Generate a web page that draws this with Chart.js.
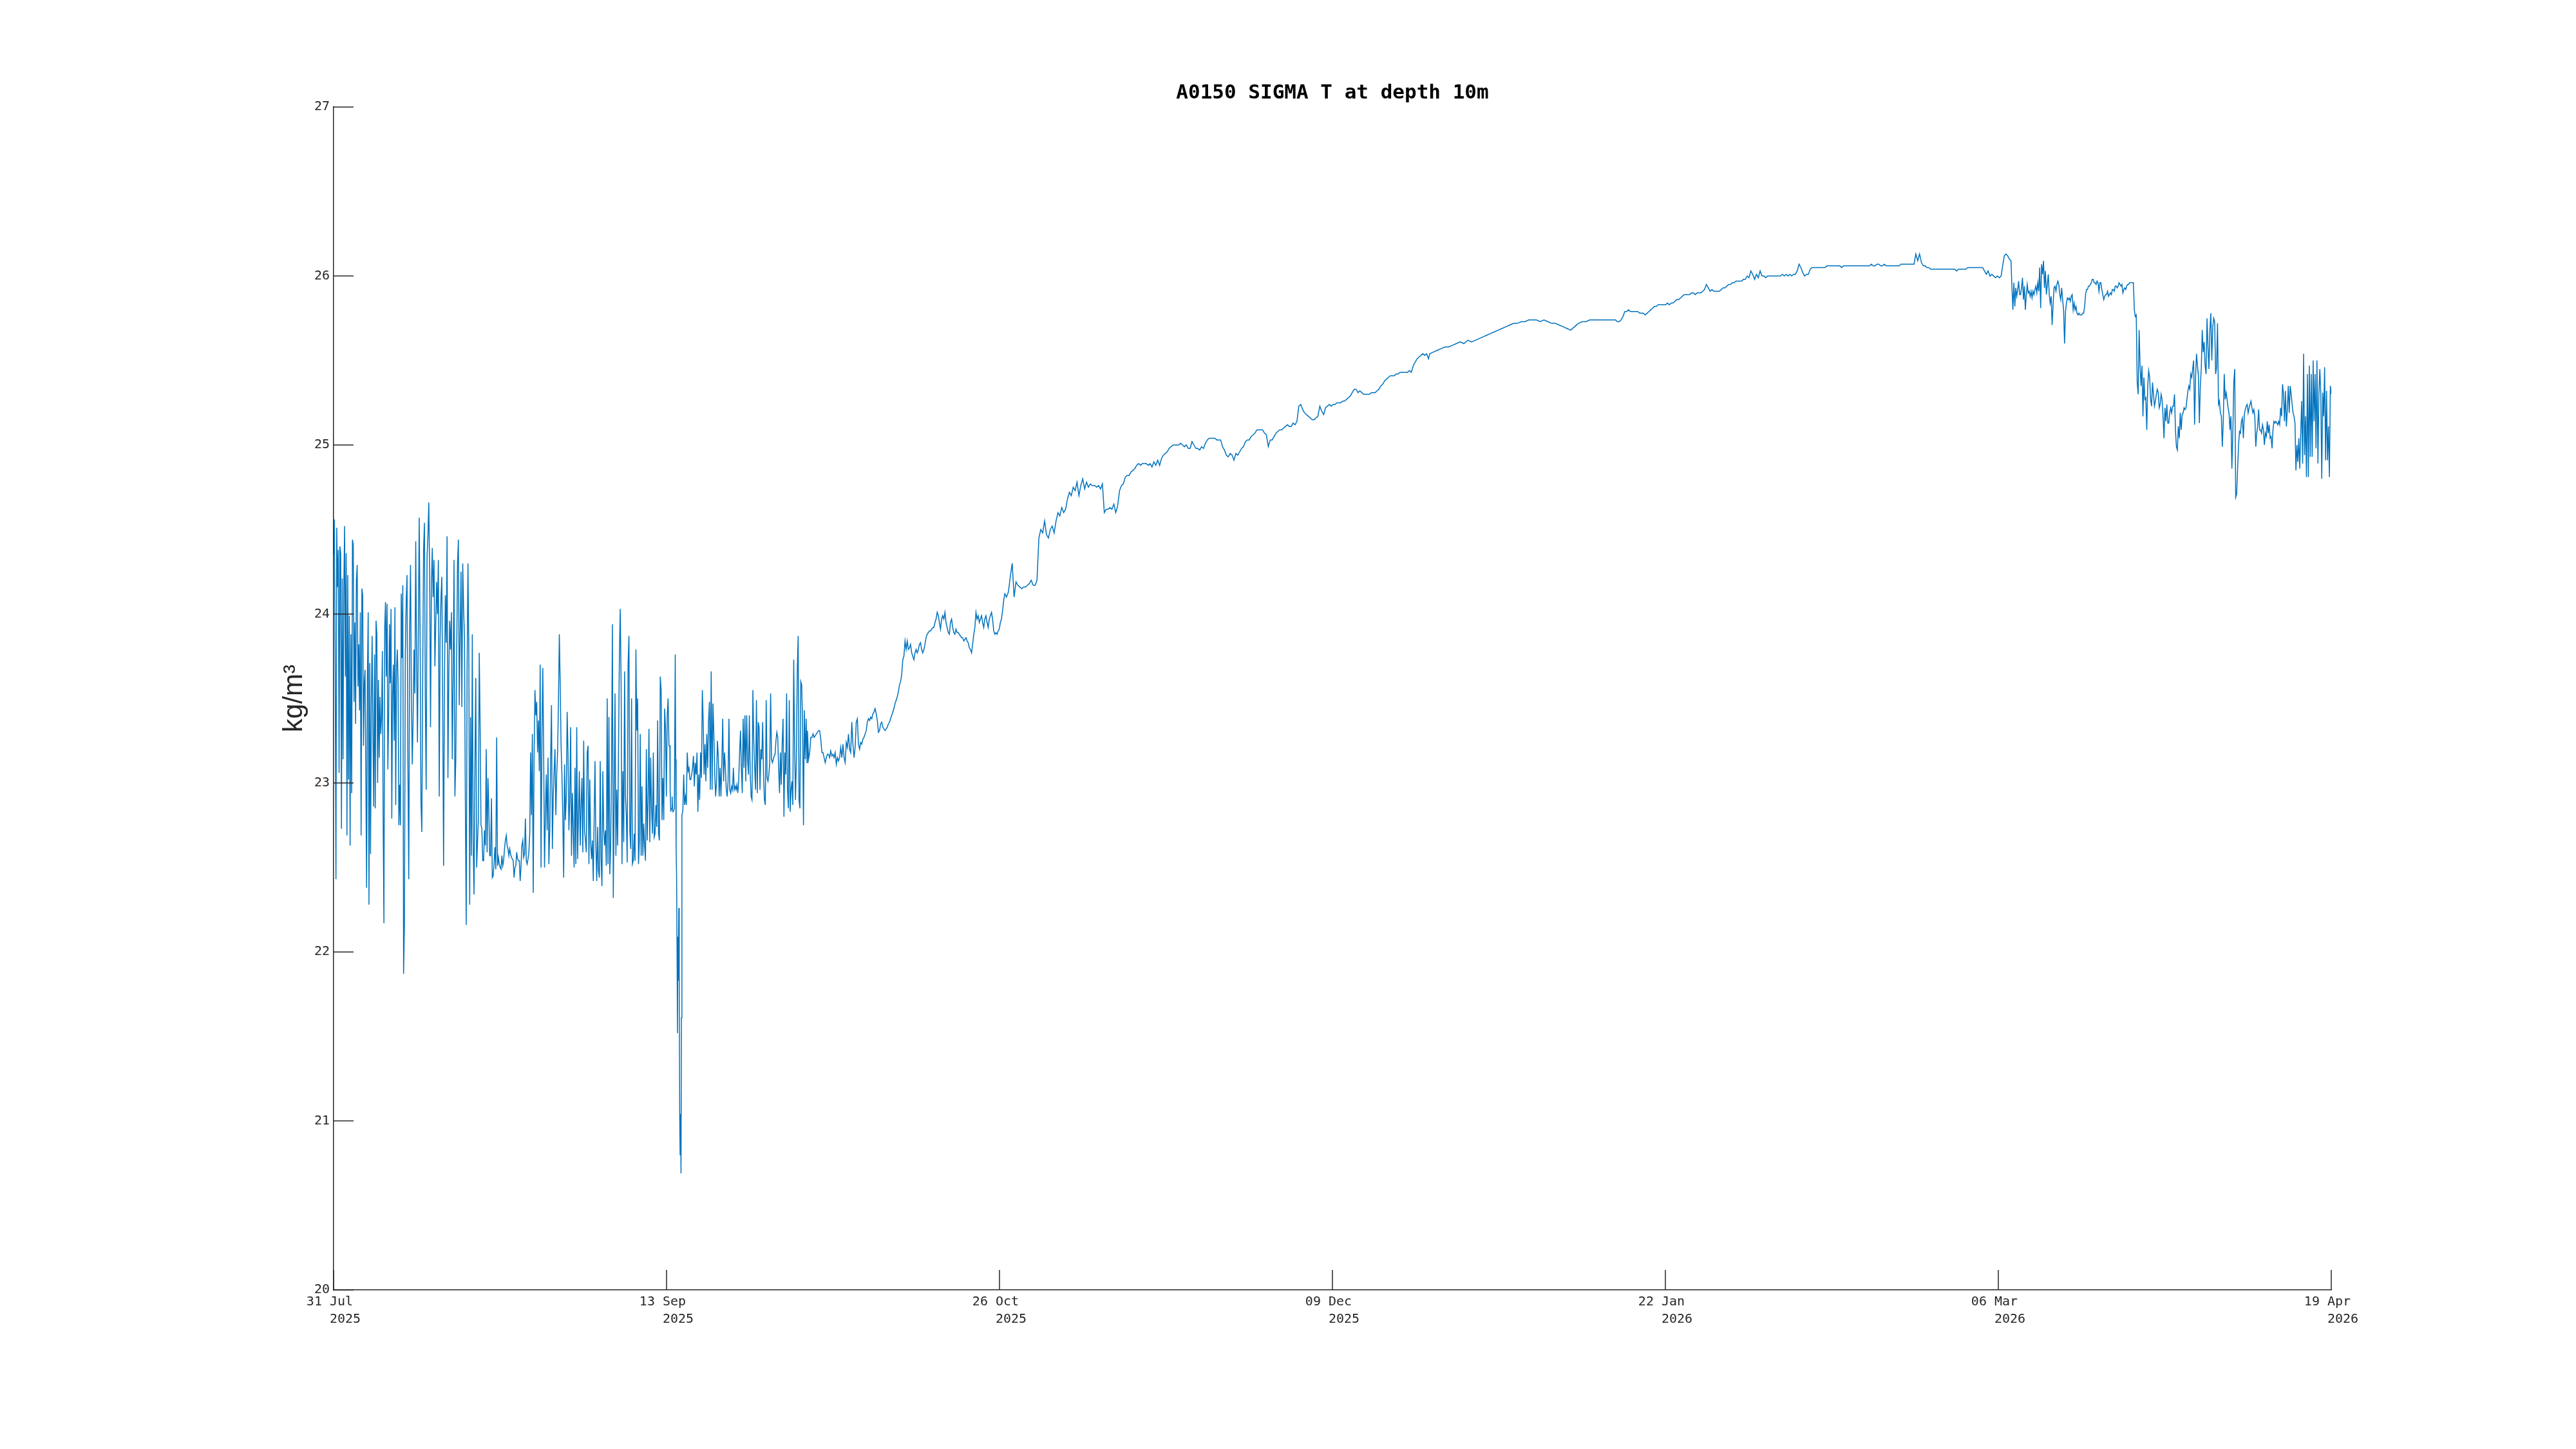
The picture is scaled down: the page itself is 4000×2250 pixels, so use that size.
<!DOCTYPE html>
<html>
<head>
<meta charset="utf-8">
<title>A0150 SIGMA T at depth 10m</title>
<script src="https://cdn.jsdelivr.net/npm/chart.js@4.4.1/dist/chart.umd.min.js"></script>
<style>
  html, body { margin: 0; padding: 0; background: #ffffff; }
  #wrap { width: 4000px; height: 2250px; }
</style>
</head>
<body>
<div id="wrap"><canvas id="sigmaChart" width="4000" height="2250"></canvas></div>
<script>
// Day 0 of the x axis (left edge of the plot)
const startDate = '2025-07-31T12:00:00Z';

// Date ticks of the x axis (evenly spaced, so they fall part way through a day),
// with the two lines of each label
const tickDates = ['2025-07-31T12:00:00Z', '2025-09-13T04:00:00Z', '2025-10-26T20:00:00Z', '2025-12-09T12:00:00Z',
                   '2026-01-22T04:00:00Z', '2026-03-06T20:00:00Z', '2026-04-19T12:00:00Z'];
const tickDayLabels = ['31 Jul', '13 Sep', '26 Oct', '09 Dec', '22 Jan', '06 Mar', '19 Apr'];
const tickYearLabels = ['2025', '2025', '2025', '2025', '2026', '2026', '2026'];

// Ticks of the y axis (kg/m3)
const yTicks = [20, 21, 22, 23, 24, 25, 26, 27];

// Sigma-T readings, one array per stretch of the record.
// Each span is [first day, last day] counted from startDate; readings are evenly spaced inside it.
const earlyAugSpan = [0, 9.18];
const earlyAug = [
  24.35, 24.56, 23.70, 22.43, 24.51, 24.16, 24.38, 23.06, 24.40, 24.36, 22.73, 24.21, 23.14, 24.16, 24.52, 23.63, 24.36, 22.69,
  24.23, 23.02, 23.99, 22.63, 23.88, 22.94, 24.44, 24.41, 23.48, 23.95, 23.35, 24.20, 24.29, 23.57, 23.82, 23.43, 24.01, 22.69,
  24.15, 24.11, 23.22, 23.59, 23.67, 23.05, 22.38, 23.63, 24.01, 22.28, 23.71, 22.58, 23.48, 23.87, 23.29, 22.86, 23.76, 22.85,
  23.96, 23.88, 23.00, 23.61, 23.15, 23.51, 23.29, 23.39, 23.78, 22.79, 22.17, 23.92, 24.07, 23.63, 24.06, 23.08, 23.39, 23.94,
  23.59, 24.03, 22.79, 23.52, 23.70, 23.25, 24.04, 22.87, 23.66, 23.79, 23.60, 22.75, 22.99, 22.75, 24.12, 23.74, 24.17, 21.87
];

const augSepSpan = [9.29, 44.1];
const augSep = [
  22.16, 23.75, 24.07, 24.23, 23.11, 22.43, 23.88, 24.29, 23.53, 23.11, 23.39, 23.79, 23.53, 24.43, 23.72, 23.24, 23.90, 24.57,
  23.90, 22.89, 22.71, 23.63, 24.38, 24.54, 23.50, 22.96, 24.34, 24.46, 24.66, 24.23, 23.33, 24.16, 24.39, 24.10, 24.32, 23.69,
  23.94, 24.19, 24.00, 24.32, 22.92, 23.85, 24.10, 24.22, 23.45, 22.51, 23.61, 24.11, 23.83, 24.46, 23.03, 23.65, 23.96, 23.79,
  24.01, 23.14, 23.61, 24.32, 22.92, 23.13, 23.73, 24.30, 24.44, 23.46, 23.87, 24.25, 23.45, 24.30, 24.03, 23.87, 22.90, 22.16,
  23.65, 24.30, 23.77, 22.28, 23.39, 22.57, 23.88, 22.65, 22.34, 23.11, 23.62, 22.50, 22.65, 22.79, 23.77, 23.33, 22.75, 22.73,
  22.54, 22.54, 22.72, 22.63, 23.20, 22.59, 23.03, 22.84, 22.57, 22.57, 22.91, 22.44, 22.45, 22.52, 22.62, 22.49, 23.27, 22.51,
  22.56, 22.52, 22.50, 22.49, 22.57, 22.51, 22.54, 22.61, 22.66, 22.69, 22.63, 22.61, 22.57, 22.61, 22.58, 22.56, 22.55, 22.54,
  22.44, 22.50, 22.51, 22.59, 22.55, 22.54, 22.54, 22.42, 22.51, 22.63, 22.66, 22.56, 22.58, 22.79, 22.54, 22.52, 22.55, 22.59,
  22.70, 23.18, 22.81, 23.29, 22.35, 23.15, 23.55, 23.40, 23.48, 23.18, 23.37, 23.07, 23.70, 22.50, 23.26, 23.68, 23.18, 22.50,
  22.81, 23.05, 22.72, 23.15, 22.52, 22.72, 23.13, 23.46, 22.61, 22.92, 23.07, 23.20, 22.81, 23.05, 23.18, 23.48, 23.88, 23.59,
  23.22, 23.05, 22.79, 22.44, 23.11, 22.78, 22.92, 23.42, 23.18, 22.72, 22.90, 23.33, 22.57, 22.94, 22.72, 22.50, 23.09, 22.52,
  23.33, 22.55, 22.81, 23.07, 22.63, 22.87, 23.03, 22.59, 23.25, 22.72, 22.66, 22.59, 23.18, 23.22, 22.52, 23.02, 22.65, 22.55,
  22.66, 22.42, 22.78, 23.13, 22.63, 22.42, 22.74, 22.48, 22.44, 23.13, 22.55, 22.39, 23.07, 22.72, 22.63, 22.72, 22.51, 23.50,
  22.52, 23.39, 22.46, 22.63, 23.09, 23.94, 22.32, 22.89, 23.53, 22.57, 22.96, 22.63, 23.18, 23.74, 24.03, 23.59, 22.52, 23.07,
  22.65, 23.66, 22.92, 22.81, 22.53, 23.70, 23.87, 22.72, 22.61, 23.50, 22.52, 22.54, 22.70, 22.54, 23.79, 23.31, 23.50, 22.52,
  22.66, 23.29, 22.57, 22.98, 22.57, 22.76, 22.63, 22.54, 23.20, 22.66, 22.90, 23.32, 22.65, 23.15, 22.85, 22.70, 23.18, 22.68,
  22.70, 22.87, 22.74, 23.37, 22.70, 22.66, 23.63, 23.55, 22.78, 23.03, 22.78, 23.44, 23.33, 22.92, 23.40, 23.50, 23.22, 23.22
];

const midSepDipSpan = [44.11, 45.68];
const midSepDip = [
  23.09, 22.96, 22.83, 22.85, 22.85, 22.92, 22.84, 22.83, 22.83, 22.84, 22.85, 22.85, 23.76, 23.14,
  22.61, 22.46, 22.04, 21.52, 22.09, 21.83, 22.26, 21.83, 21.06, 20.80, 21.04, 20.69, 21.61, 22.81
];

const lateSepSpan = [45.8, 62.09];
const lateSep = [
  22.83, 23.05, 22.87, 22.92, 22.87, 23.18, 23.07, 23.09, 23.02, 23.02, 23.05, 23.09, 23.16, 22.98, 23.12, 23.05, 23.18, 22.83,
  23.05, 22.90, 23.18, 23.03, 23.55, 23.36, 23.05, 23.23, 23.01, 23.29, 23.09, 23.36, 23.48, 22.96, 23.66, 22.96, 23.47, 23.29,
  23.05, 22.92, 23.01, 23.25, 23.16, 22.92, 23.09, 22.92, 23.12, 23.38, 23.01, 23.18, 23.09, 22.96, 22.92, 23.01, 23.38, 22.96,
  22.94, 22.98, 22.96, 23.09, 22.96, 22.98, 22.96, 22.99, 22.94, 23.01, 23.18, 23.31, 23.09, 22.94, 23.38, 23.09, 23.40, 23.01,
  23.40, 23.14, 23.05, 23.40, 23.05, 22.92, 22.90, 23.55, 23.25, 23.09, 22.96, 23.49, 22.94, 23.36, 23.33, 22.96, 23.20, 23.14,
  23.36, 23.05, 22.90, 22.87, 23.49, 23.03, 23.01, 23.05, 23.12, 23.53, 23.14, 23.12, 23.14, 23.16, 23.17, 23.25, 23.30, 23.27,
  23.09, 22.94, 23.18, 22.99, 23.23, 23.38, 22.80, 23.18, 23.05, 23.53, 22.96, 22.85, 23.49, 22.83, 22.96, 23.01, 22.87, 23.73,
  23.23, 22.90, 23.14, 23.66, 23.87, 22.90, 22.85, 23.60, 23.58, 23.36, 22.75, 23.43, 23.14, 23.38, 23.12
];

const octoberSpan = [62.15, 88.03];
const october = [
  23.31, 23.14, 23.18, 23.27, 23.27, 23.29, 23.27, 23.28, 23.29, 23.30, 23.31, 23.31, 23.26, 23.18, 23.18, 23.15, 23.12, 23.15,
  23.17, 23.17, 23.15, 23.19, 23.16, 23.17, 23.15, 23.18, 23.11, 23.15, 23.13, 23.15, 23.21, 23.15, 23.23, 23.15, 23.12, 23.24,
  23.21, 23.29, 23.20, 23.18, 23.36, 23.23, 23.15, 23.21, 23.36, 23.38, 23.23, 23.20, 23.24, 23.23, 23.26, 23.27, 23.29, 23.31,
  23.36, 23.38, 23.37, 23.39, 23.38, 23.41, 23.42, 23.44, 23.41, 23.37, 23.30, 23.31, 23.35, 23.36, 23.33, 23.32, 23.31, 23.32,
  23.33, 23.35, 23.36, 23.38, 23.40, 23.42, 23.44, 23.47, 23.49, 23.51, 23.54, 23.58, 23.60, 23.64, 23.73, 23.75, 23.84, 23.79,
  23.84, 23.79, 23.80, 23.82, 23.77, 23.75, 23.73, 23.77, 23.79, 23.77, 23.79, 23.82, 23.83, 23.79, 23.77, 23.79, 23.82, 23.86,
  23.88, 23.89, 23.90, 23.90, 23.91, 23.92, 23.92, 23.95, 23.97, 24.01, 23.99, 23.95, 23.91, 23.97, 23.99, 23.97, 24.01, 23.95,
  23.92, 23.89, 23.88, 23.95, 23.97, 23.92, 23.89, 23.88, 23.91, 23.89, 23.89, 23.88, 23.87, 23.86, 23.86, 23.84, 23.85, 23.86,
  23.84, 23.83, 23.80, 23.79, 23.77, 23.82, 23.88, 23.92, 24.01, 23.97, 23.99, 23.95, 23.97, 23.99, 23.95, 23.92, 23.97, 23.99,
  23.95, 23.92, 23.97, 23.99, 24.01, 23.97, 23.90, 23.88, 23.89, 23.88, 23.90, 23.91, 23.95, 23.97, 24.02, 24.08, 24.12
];

const novemberSpan = [88.25, 99.5];
const november = [
  24.10, 24.13, 24.22, 24.30, 24.10, 24.19, 24.17, 24.16, 24.15, 24.16, 24.16, 24.17, 24.18, 24.20, 24.17, 24.17,
  24.20, 24.45, 24.50, 24.48, 24.55, 24.47, 24.45, 24.50, 24.52, 24.48, 24.55, 24.60, 24.58, 24.63, 24.60, 24.62,
  24.68, 24.72, 24.70, 24.75, 24.73, 24.78, 24.70, 24.76, 24.80, 24.74, 24.78, 24.75, 24.77, 24.76
];

const decemberSpan = [99.83, 143.6];
const december = [
  24.76, 24.75, 24.76, 24.74, 24.77, 24.60, 24.62, 24.62, 24.63, 24.62, 24.65, 24.60, 24.64, 24.73, 24.76, 24.77, 24.81, 24.82,
  24.82, 24.84, 24.85, 24.86, 24.88, 24.89, 24.88, 24.89, 24.89, 24.89, 24.88, 24.89, 24.87, 24.90, 24.88, 24.91, 24.88, 24.92,
  24.94, 24.95, 24.96, 24.98, 24.99, 25.00, 25.00, 25.00, 25.00, 25.01, 25.00, 24.99, 25.00, 24.98, 24.98, 25.02, 25.00, 24.98,
  24.98, 24.97, 24.99, 24.98, 25.01, 25.03, 25.04, 25.04, 25.04, 25.04, 25.03, 25.03, 25.03, 24.99, 24.97, 24.94, 24.93, 24.95,
  24.94, 24.91, 24.95, 24.94, 24.96, 24.98, 24.99, 25.02, 25.03, 25.03, 25.05, 25.06, 25.07, 25.09, 25.09, 25.09, 25.09, 25.07,
  25.06, 24.99, 25.03, 25.03, 25.05, 25.07, 25.08, 25.09, 25.09, 25.10, 25.11, 25.12, 25.11, 25.11, 25.13, 25.12, 25.14, 25.23,
  25.24, 25.21, 25.19, 25.18, 25.17, 25.16, 25.15, 25.15, 25.16, 25.17, 25.23, 25.20, 25.18, 25.22, 25.23, 25.24, 25.23, 25.24,
  25.24, 25.25, 25.25, 25.25, 25.26, 25.26, 25.27, 25.28, 25.29, 25.31, 25.33, 25.33, 25.31, 25.32, 25.31, 25.30, 25.30, 25.30,
  25.30, 25.31, 25.31, 25.31, 25.32, 25.33, 25.35, 25.36, 25.38, 25.39, 25.40, 25.41, 25.41, 25.41, 25.42, 25.42, 25.43, 25.43,
  25.43, 25.43, 25.43, 25.44, 25.43, 25.47, 25.49, 25.51, 25.52, 25.53, 25.54, 25.53, 25.54, 25.51
];

const januarySpan = [143.75, 167.25];
const january = [
  25.54, 25.55, 25.56, 25.57, 25.58, 25.58, 25.59, 25.60, 25.61, 25.60, 25.62, 25.61, 25.62, 25.63, 25.64, 25.65,
  25.66, 25.67, 25.68, 25.69, 25.70, 25.71, 25.72, 25.72, 25.73, 25.73, 25.74, 25.74, 25.74, 25.73, 25.74, 25.73,
  25.72, 25.72, 25.71, 25.70, 25.69, 25.68, 25.70, 25.72, 25.73, 25.73, 25.74, 25.74, 25.74, 25.74, 25.74, 25.74
];

const februarySpan = [167.4, 218.7];
const february = [
  25.74, 25.74, 25.74, 25.74, 25.73, 25.73, 25.74, 25.76, 25.79, 25.79, 25.80, 25.79, 25.79, 25.79, 25.79, 25.79, 25.78, 25.78,
  25.78, 25.77, 25.78, 25.79, 25.80, 25.81, 25.82, 25.82, 25.83, 25.83, 25.83, 25.83, 25.83, 25.84, 25.83, 25.84, 25.84, 25.85,
  25.86, 25.86, 25.87, 25.88, 25.89, 25.89, 25.89, 25.89, 25.90, 25.90, 25.89, 25.90, 25.90, 25.90, 25.91, 25.92, 25.95, 25.93,
  25.91, 25.92, 25.91, 25.91, 25.91, 25.91, 25.92, 25.93, 25.93, 25.94, 25.95, 25.95, 25.96, 25.96, 25.97, 25.97, 25.97, 25.97,
  25.98, 25.98, 26.00, 25.99, 26.03, 26.01, 25.98, 26.01, 25.99, 26.03, 26.00, 26.00, 25.99, 26.00, 26.00, 26.00, 26.00, 26.00,
  26.00, 26.00, 26.00, 26.01, 26.00, 26.01, 26.00, 26.01, 26.00, 26.01, 26.01, 26.03, 26.07, 26.05, 26.02, 26.00, 26.01, 26.01,
  26.04, 26.05, 26.05, 26.05, 26.05, 26.05, 26.05, 26.05, 26.05, 26.06, 26.06, 26.06, 26.06, 26.06, 26.06, 26.06, 26.06, 26.05,
  26.06, 26.06, 26.06, 26.06, 26.06, 26.06, 26.06, 26.06, 26.06, 26.06, 26.06, 26.06, 26.06, 26.06, 26.06, 26.07, 26.06, 26.06,
  26.07, 26.07, 26.06, 26.06, 26.07, 26.06, 26.06, 26.06, 26.06, 26.06, 26.06, 26.06, 26.06, 26.07, 26.07, 26.07, 26.07, 26.07,
  26.07, 26.07, 26.07, 26.13, 26.09, 26.13, 26.08, 26.06, 26.06, 26.05, 26.05, 26.04, 26.04, 26.04, 26.04, 26.04, 26.04, 26.04,
  26.04, 26.04, 26.04, 26.04, 26.04, 26.04, 26.04, 26.03, 26.04, 26.04, 26.04, 26.04, 26.04, 26.05, 26.05, 26.05, 26.05, 26.05,
  26.05, 26.05, 26.05, 26.05, 26.03, 26.01, 26.03, 26.00, 26.01, 26.00, 25.99, 26.00, 25.99, 26.00
];

const earlyMarchSpan = [218.9, 220.0];
const earlyMarch = [26.06, 26.12, 26.13, 26.12, 26.10, 26.09];

const marchAprilSpan = [220.12, 262.13];
const marchApril = [
  25.93, 25.80, 25.96, 25.82, 25.93, 25.88, 25.92, 25.97, 25.89, 25.89, 25.93, 25.99, 25.86, 25.94, 25.80, 25.89, 25.95, 25.90,
  25.91, 25.88, 25.91, 25.87, 25.91, 25.89, 25.92, 25.94, 25.90, 25.96, 25.91, 26.05, 25.81, 26.07, 26.01, 26.09, 25.93, 26.03,
  25.89, 25.95, 26.01, 25.89, 25.84, 25.88, 25.71, 25.83, 25.93, 25.94, 25.91, 25.95, 25.97, 25.95, 25.89, 25.86, 25.93, 25.86,
  25.80, 25.60, 25.79, 25.84, 25.87, 25.86, 25.87, 25.85, 25.88, 25.89, 25.80, 25.84, 25.80, 25.82, 25.78, 25.77, 25.78, 25.77,
  25.77, 25.77, 25.78, 25.78, 25.82, 25.89, 25.92, 25.92, 25.94, 25.94, 25.95, 25.96, 25.98, 25.98, 25.96, 25.96, 25.95, 25.97,
  25.96, 25.91, 25.96, 25.96, 25.92, 25.89, 25.86, 25.88, 25.89, 25.89, 25.91, 25.88, 25.89, 25.90, 25.89, 25.92, 25.92, 25.91,
  25.94, 25.94, 25.93, 25.94, 25.96, 25.95, 25.94, 25.95, 25.90, 25.92, 25.93, 25.92, 25.94, 25.95, 25.95, 25.96, 25.96, 25.96,
  25.96, 25.96, 25.80, 25.76, 25.77, 25.37, 25.30, 25.68, 25.47, 25.35, 25.47, 25.17, 25.40, 25.27, 25.28, 25.09, 25.35, 25.44,
  25.40, 25.27, 25.23, 25.37, 25.30, 25.23, 25.26, 25.30, 25.33, 25.31, 25.22, 25.24, 25.30, 25.27, 25.17, 25.04, 25.22, 25.14,
  25.24, 25.13, 25.13, 25.19, 25.22, 25.19, 25.23, 25.23, 25.30, 25.09, 24.99, 24.97, 25.11, 25.04, 25.19, 25.09, 25.18, 25.19,
  25.22, 25.21, 25.22, 25.27, 25.32, 25.35, 25.33, 25.42, 25.40, 25.45, 25.50, 25.12, 25.40, 25.54, 25.47, 25.41, 25.13, 25.35,
  25.45, 25.68, 25.55, 25.61, 25.47, 25.42, 25.75, 25.58, 25.45, 25.68, 25.78, 25.50, 25.70, 25.75, 25.73, 25.42, 25.46, 25.72,
  25.24, 25.26, 25.19, 25.17, 24.99, 25.14, 25.42, 25.27, 25.31, 25.27, 25.22, 25.19, 25.09, 25.17, 24.86, 25.07, 25.37, 25.45,
  24.69, 24.71, 24.86, 25.00, 25.08, 25.07, 25.14, 25.16, 25.04, 25.18, 25.21, 25.23, 25.24, 25.19, 25.22, 25.24, 25.26, 25.22,
  25.19, 25.21, 25.17, 24.99, 25.07, 25.11, 25.21, 25.09, 25.09, 25.07, 25.12, 25.09, 25.00, 25.07, 25.05, 25.14, 25.07, 25.12,
  25.04, 25.05, 24.98, 25.09, 25.14, 25.13, 25.14, 25.13, 25.12, 25.14, 25.12, 25.22, 25.17, 25.36, 25.30, 25.14, 25.32, 25.11,
  25.21, 25.35, 25.19, 25.35, 25.30, 25.24, 25.19, 25.17, 25.13, 24.85, 25.00, 24.90, 25.04, 24.86, 25.07, 25.26, 24.89, 25.54,
  24.94, 25.17, 24.81, 25.42, 24.81, 25.47, 24.93, 25.42, 24.93, 25.50, 25.14, 25.42, 24.98, 25.50, 24.89, 25.30, 25.45, 25.30,
  24.80, 25.31, 25.17, 25.46, 24.91, 25.32, 24.91, 25.11, 24.81, 25.35, 25.30, 25.32
];

// Colours (MATLAB defaults)
const lineColor = '#0072BD';
const axisColor = '#262626';

// Hari ke-n sejak startDate
function toDay(dateStr) {
    return (Date.parse(dateStr) - Date.parse(startDate)) / 86400000;
}

const tickDays = tickDates.map(toDay);

// Gabungkan semua potongan menjadi satu deret titik {x: hari, y: sigma-T}
const segments = [
    [earlyAugSpan, earlyAug],
    [augSepSpan, augSep],
    [midSepDipSpan, midSepDip],
    [lateSepSpan, lateSep],
    [octoberSpan, october],
    [novemberSpan, november],
    [decemberSpan, december],
    [januarySpan, january],
    [februarySpan, february],
    [earlyMarchSpan, earlyMarch],
    [marchAprilSpan, marchApril]
];

const points = [];
segments.forEach(([span, values]) => {
    const step = (span[1] - span[0]) / (values.length - 1);
    values.forEach((v, i) => {
        points.push({ x: span[0] + i * step, y: v });
    });
});

// Tick marks that point into the plot, like MATLAB axes
const inwardTicks = {
    id: 'inwardTicks',
    afterDraw(chart) {
        const { ctx, chartArea, scales } = chart;
        const len = 31;
        ctx.save();
        ctx.strokeStyle = axisColor;
        ctx.lineWidth = 1.5;
        ctx.beginPath();
        scales.y.ticks.forEach(t => {
            const y = scales.y.getPixelForValue(t.value);
            ctx.moveTo(chartArea.left, y);
            ctx.lineTo(chartArea.left + len, y);
        });
        scales.x.ticks.forEach(t => {
            const x = scales.x.getPixelForValue(t.value);
            ctx.moveTo(x, chartArea.bottom);
            ctx.lineTo(x, chartArea.bottom - len);
        });
        ctx.stroke();
        ctx.restore();
    }
};

const tickFont = { family: 'DejaVu Sans Mono', size: 20, lineHeight: 1.35 };

new Chart(document.getElementById('sigmaChart'), {
    type: 'line',
    data: {
        datasets: [{
            data: points,
            borderColor: lineColor,
            borderWidth: 1.5,
            pointRadius: 0,
            fill: false,
            tension: 0
        }]
    },
    options: {
        responsive: false,
        animation: false,
        devicePixelRatio: 1,
        parsing: false,
        layout: { padding: { left: 380, right: 380, top: 0, bottom: 0 } },
        plugins: {
            legend: { display: false },
            tooltip: { enabled: false },
            title: {
                display: true,
                text: 'A0150 SIGMA T at depth 10m',
                fullSize: false,
                color: '#000000',
                font: { family: 'DejaVu Sans Mono', size: 31, weight: 'bold', lineHeight: 1.2 },
                padding: { top: 126, bottom: 3 }
            }
        },
        scales: {
            x: {
                type: 'linear',
                min: tickDays[0],
                max: tickDays[tickDays.length - 1],
                afterBuildTicks: scale => {
                    scale.ticks = tickDays.map(v => ({ value: v }));
                },
                afterFit: scale => { scale.height = 247; },
                grid: { display: false, drawTicks: false },
                border: { display: true, color: axisColor, width: 1.5 },
                ticks: {
                    autoSkip: false,
                    maxRotation: 0,
                    minRotation: 0,
                    padding: 5,
                    color: axisColor,
                    font: tickFont,
                    callback: (value, index) => [tickDayLabels[index] + ' ', '   ' + tickYearLabels[index]]
                }
            },
            y: {
                type: 'linear',
                min: yTicks[0],
                max: yTicks[yTicks.length - 1],
                afterBuildTicks: scale => {
                    scale.ticks = yTicks.map(v => ({ value: v }));
                },
                afterFit: scale => { scale.width = 138; },
                grid: { display: false, drawTicks: false },
                border: { display: true, color: axisColor, width: 1.5 },
                ticks: {
                    padding: 6,
                    color: axisColor,
                    font: tickFont
                },
                title: {
                    display: true,
                    text: 'kg/m³',
                    color: axisColor,
                    font: { family: 'Liberation Sans', size: 42, lineHeight: 1.2 },
                    padding: { top: 52, bottom: 0 }
                }
            }
        }
    },
    plugins: [inwardTicks]
});
</script>
</body>
</html>
